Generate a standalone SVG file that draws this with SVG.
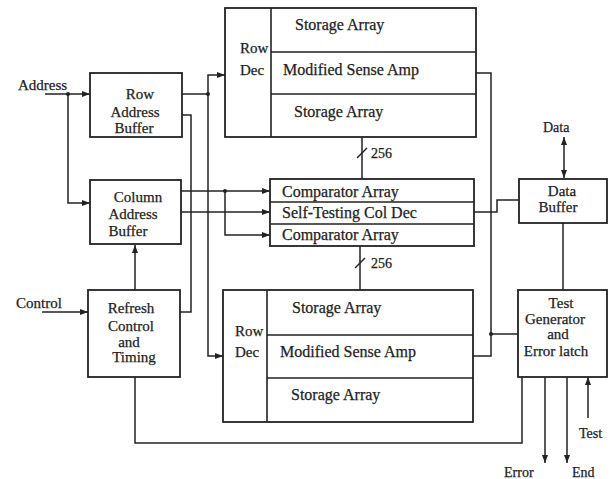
<svg xmlns="http://www.w3.org/2000/svg" width="611" height="479" viewBox="0 0 611 479">
  <defs>
    <marker id="arrow" viewBox="0 0 8 6" refX="8" refY="3" markerWidth="8" markerHeight="6" markerUnits="userSpaceOnUse" orient="auto-start-reverse">
      <path d="M0,0 L8,3 L0,6 z" fill="#222"/>
    </marker>
    <style>
      .box { fill: none; stroke: #222; stroke-width: 1.8; }
      .div { fill: none; stroke: #222; stroke-width: 1.6; }
      .wire { fill: none; stroke: #222; stroke-width: 1.5; }
      .dot { fill: #222; }
      text { font-family: "Liberation Serif", "Times New Roman", serif; font-size: 15px; fill: #1e1e1e; stroke: #1e1e1e; stroke-width: 0.25; }
      .c { text-anchor: middle; }
      .sm { font-size: 14px; }
      .arr { font-size: 16px; }
    </style>
  </defs>
  <rect width="611" height="479" fill="#fff"/>

  <!-- connectors -->
  <g id="connectors">
    <!-- address inputs -->
    <path class="wire" d="M45,94 H90" marker-end="url(#arrow)"/>
    <path class="wire" d="M68,94 V203 H90" marker-end="url(#arrow)"/>
    <circle class="dot" cx="68" cy="94" r="2"/>
    <!-- control input -->
    <path class="wire" d="M42,312 H88" marker-end="url(#arrow)"/>
    <!-- refresh to column address buffer -->
    <path class="wire" d="M135,290 V245" marker-end="url(#arrow)"/>
    <!-- row address to both row decoders -->
    <path class="wire" d="M182,94 H208"/>
    <path class="wire" d="M208,94 V75 H225" marker-end="url(#arrow)"/>
    <path class="wire" d="M208,94 V356 H223" marker-end="url(#arrow)"/>
    <circle class="dot" cx="208" cy="94" r="2"/>
    <!-- refresh counter to row address buffer -->
    <path class="wire" d="M182,115 H191 V312 H180"/>
    <!-- column address to comparator / col dec -->
    <path class="wire" d="M181,191 H270" marker-end="url(#arrow)"/>
    <path class="wire" d="M181,212 H270" marker-end="url(#arrow)"/>
    <path class="wire" d="M225,191 V235 H270" marker-end="url(#arrow)"/>
    <circle class="dot" cx="225" cy="191" r="2"/>
    <!-- 256-bit buses -->
    <path class="wire" d="M362,137 V179"/>
    <path class="wire" d="M357,158 L367,148"/>
    <path class="wire" d="M360,246 V290"/>
    <path class="wire" d="M355,268 L365,258"/>
    <!-- sense amps to test generator -->
    <path class="wire" d="M476,73 H491 V356 H473"/>
    <path class="wire" d="M491,334 H518"/>
    <circle class="dot" cx="491" cy="334" r="2"/>
    <!-- col dec to data buffer -->
    <path class="wire" d="M474,212 H497 V200 H519"/>
    <!-- data bus -->
    <path class="wire" d="M564,137 V178" marker-start="url(#arrow)" marker-end="url(#arrow)"/>
    <path class="wire" d="M563,223 V290"/>
    <!-- refresh timing to test generator -->
    <path class="wire" d="M135,377 V443 H522 V377"/>
    <!-- error / end / test -->
    <path class="wire" d="M545,377 V463" marker-end="url(#arrow)"/>
    <path class="wire" d="M567,377 V463" marker-end="url(#arrow)"/>
    <path class="wire" d="M588,418 V377" marker-end="url(#arrow)"/>
  </g>

  <!-- signal labels -->
  <g id="labels">
    <text x="18" y="90">Address</text>
    <text x="16" y="308">Control</text>
    <text x="543" y="132" class="sm">Data</text>
    <text x="371" y="158" class="sm">256</text>
    <text x="371" y="268" class="sm">256</text>
    <text x="504" y="477" class="sm">Error</text>
    <text x="572" y="477" class="sm">End</text>
    <text x="579" y="438" class="sm">Test</text>
  </g>

  <g id="row-address-buffer">
    <rect class="box" x="90" y="73" width="92" height="64"/>
    <text class="c" x="140" y="99">Row</text>
    <text class="c" x="135" y="117">Address</text>
    <text class="c" x="134" y="133">Buffer</text>
  </g>

  <g id="column-address-buffer">
    <rect class="box" x="90" y="180" width="91" height="64"/>
    <text class="c" x="138" y="202">Column</text>
    <text class="c" x="133" y="219">Address</text>
    <text class="c" x="128" y="236">Buffer</text>
  </g>

  <g id="refresh-control">
    <rect class="box" x="88" y="290" width="92" height="87"/>
    <text class="c" x="131" y="313">Refresh</text>
    <text class="c" x="131" y="331">Control</text>
    <text class="c" x="129" y="347">and</text>
    <text class="c" x="134" y="362">Timing</text>
  </g>

  <g id="upper-array">
    <rect class="box" x="225" y="8" width="251" height="129"/>
    <path class="div" d="M271,8 V137 M271,52 H476 M271,94 H476"/>
    <text x="240" y="53">Row</text>
    <text x="240" y="75">Dec</text>
    <text class="arr" x="295" y="30">Storage Array</text>
    <text class="arr" x="283" y="75">Modified Sense Amp</text>
    <text class="arr" x="294" y="117">Storage Array</text>
  </g>

  <g id="comparator-block">
    <rect class="box" x="270" y="179" width="204" height="67"/>
    <path class="div" d="M270,202 H474 M270,224 H474"/>
    <text class="arr" x="282" y="197">Comparator Array</text>
    <text class="arr" x="282" y="218">Self-Testing Col Dec</text>
    <text class="arr" x="282" y="240">Comparator Array</text>
  </g>

  <g id="lower-array">
    <rect class="box" x="223" y="290" width="250" height="132"/>
    <path class="div" d="M267,290 V422 M267,335 H473 M267,378 H473"/>
    <text x="235" y="336">Row</text>
    <text x="235" y="357">Dec</text>
    <text class="arr" x="292" y="313">Storage Array</text>
    <text class="arr" x="280" y="357">Modified Sense Amp</text>
    <text class="arr" x="291" y="400">Storage Array</text>
  </g>

  <g id="data-buffer">
    <rect class="box" x="519" y="179" width="88" height="44"/>
    <text class="c" x="562" y="196">Data</text>
    <text class="c" x="558" y="212">Buffer</text>
  </g>

  <g id="test-generator">
    <rect class="box" x="518" y="290" width="89" height="87"/>
    <text class="c" x="561" y="308">Test</text>
    <text class="c" x="555" y="324">Generator</text>
    <text class="c" x="558" y="339">and</text>
    <text class="c" x="556" y="356">Error latch</text>
  </g>
</svg>
